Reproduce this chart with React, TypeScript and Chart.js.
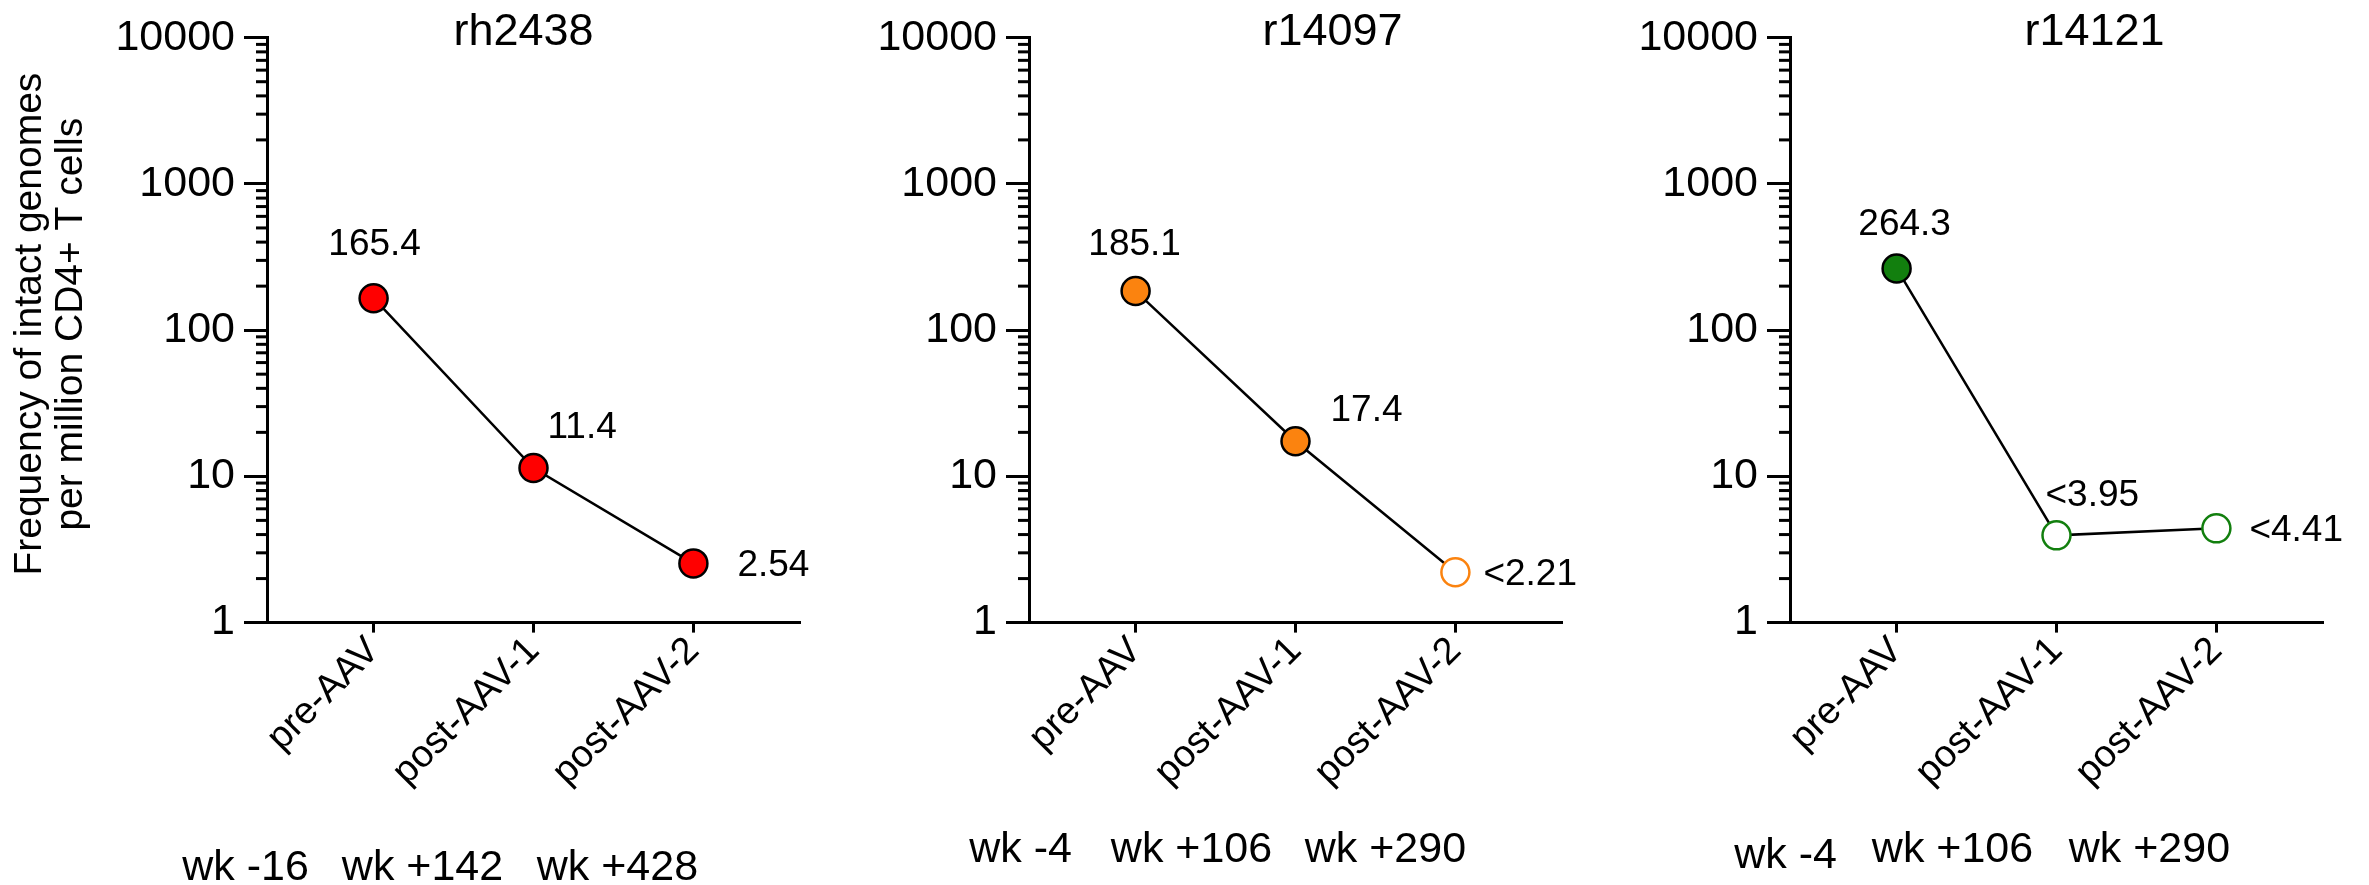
import React, { useEffect, useRef } from 'react';
import { Chart, registerables } from 'chart.js';

Chart.register(...registerables);

// ---------- data ----------
const categories = ['pre-AAV', 'post-AAV-1', 'post-AAV-2'];
const panelTitles = ['rh2438', 'r14097', 'r14121'];

const rh2438Values = [165.4, 11.4, 2.54];
const r14097Values = [185.1, 17.4, 2.21];
const r14121Values = [264.3, 3.95, 4.41];

const rh2438BelowLimit = [false, false, false];
const r14097BelowLimit = [false, false, true];
const r14121BelowLimit = [false, true, true];

const rh2438Weeks = ['wk -16', 'wk +142', 'wk +428'];
const r14097Weeks = ['wk -4', 'wk +106', 'wk +290'];
const r14121Weeks = ['wk -4', 'wk +106', 'wk +290'];

const yTickValues = [1, 10, 100, 1000, 10000];
const yTitleLines = ['Frequency of intact genomes', 'per million CD4+ T cells'];

// ---------- styles / layout ----------
const FONT = '"Liberation Sans", Arial, Helvetica, sans-serif';
const CANVAS_W = 846;
const CANVAS_H = 885;
const AXIS_LEFT = 267;
const PLOT_TOP = 37.7;
const PLOT_BOTTOM = 622.6;
const AXIS_W = 3;

type LabelPos = { dx: number; dy: number; align: CanvasTextAlign };

const panels = [
  {
    title: panelTitles[0],
    values: rh2438Values,
    below: rh2438BelowLimit,
    weeks: rh2438Weeks,
    color: '#ff0000',
    left: 0,
    showYTitle: true,
    titleDx: -10,
    labelPos: [
      { dx: 1, dy: -43, align: 'center' },
      { dx: 14, dy: -30, align: 'left' },
      { dx: 44, dy: 13, align: 'left' },
    ] as LabelPos[],
    weekDx: [-128, -111, -76],
    weekY: [880, 880, 880],
  },
  {
    title: panelTitles[1],
    values: r14097Values,
    below: r14097BelowLimit,
    weeks: r14097Weeks,
    color: '#fb830f',
    left: 762,
    showYTitle: false,
    titleDx: 37,
    labelPos: [
      { dx: -1, dy: -36, align: 'center' },
      { dx: 35, dy: -20, align: 'left' },
      { dx: 28, dy: 13, align: 'left' },
    ] as LabelPos[],
    weekDx: [-115, -104, -70],
    weekY: [862, 862, 862],
  },
  {
    title: panelTitles[2],
    values: r14121Values,
    below: r14121BelowLimit,
    weeks: r14121Weeks,
    color: '#127f0e',
    left: 1523,
    showYTitle: false,
    titleDx: 38,
    labelPos: [
      { dx: 8, dy: -33, align: 'center' },
      { dx: -11, dy: -29, align: 'left' },
      { dx: 33, dy: 13, align: 'left' },
    ] as LabelPos[],
    weekDx: [-111, -104, -67],
    weekY: [868, 862, 862],
  },
];

type Panel = (typeof panels)[number];

function fmt(v: number, below: boolean) {
  return (below ? '<' : '') + String(v);
}

function PanelChart({ p }: { p: Panel }) {
  const ref = useRef<HTMLCanvasElement | null>(null);

  useEffect(() => {
    if (!ref.current) return;

    const overlay = {
      id: 'overlay',
      afterDraw(chart: any) {
        const ctx = chart.ctx as CanvasRenderingContext2D;
        const area = chart.chartArea;
        const xs = chart.scales.x;
        const ys = chart.scales.y;
        ctx.save();

        // minor log ticks
        ctx.strokeStyle = '#000';
        ctx.lineWidth = AXIS_W;
        for (let d = 0; d < 4; d++) {
          for (let k = 2; k <= 9; k++) {
            const y = ys.getPixelForValue(k * Math.pow(10, d));
            ctx.beginPath();
            ctx.moveTo(area.left - 11, y);
            ctx.lineTo(area.left, y);
            ctx.stroke();
          }
        }

        ctx.fillStyle = '#000';

        // title
        ctx.font = `45px ${FONT}`;
        ctx.textAlign = 'center';
        ctx.textBaseline = 'alphabetic';
        ctx.fillText(p.title, (area.left + area.right) / 2 + p.titleDx, 45);

        // value labels
        const meta = chart.getDatasetMeta(0);
        ctx.font = `37px ${FONT}`;
        meta.data.forEach((pt: any, i: number) => {
          const lp = p.labelPos[i];
          ctx.textAlign = lp.align;
          ctx.textBaseline = 'alphabetic';
          ctx.fillText(fmt(p.values[i], p.below[i]), pt.x + lp.dx, pt.y + lp.dy);
        });

        // week labels
        ctx.font = `43px ${FONT}`;
        ctx.textAlign = 'center';
        p.weeks.forEach((w, i) => {
          const x = xs.getPixelForValue(i) + p.weekDx[i];
          ctx.fillText(w, x, p.weekY[i]);
        });

        // y-axis title
        if (p.showYTitle) {
          ctx.font = `39px ${FONT}`;
          ctx.textAlign = 'center';
          ctx.textBaseline = 'middle';
          const cy = (area.top + area.bottom) / 2 - 6;
          ctx.translate(30, cy);
          ctx.rotate(-Math.PI / 2);
          ctx.fillText(yTitleLines[0], 0, 0);
          ctx.fillText(yTitleLines[1], 0, 41);
        }
        ctx.restore();
      },
    };

    const chart = new Chart(ref.current, {
      type: 'line',
      data: {
        datasets: [
          {
            data: p.values.map((v, i) => ({ x: i, y: v })),
            borderColor: '#000',
            borderWidth: 2.5,
            pointRadius: 14,
            pointHoverRadius: 14,
            pointBorderWidth: 2.5,
            pointBackgroundColor: p.below.map((b) => (b ? '#ffffff' : p.color)),
            pointBorderColor: p.below.map((b) => (b ? p.color : '#000')),
            tension: 0,
            fill: false,
            clip: false as any,
          },
        ],
      },
      options: {
        responsive: false,
        animation: false,
        maintainAspectRatio: false,
        devicePixelRatio: 1,
        layout: { padding: { top: PLOT_TOP, right: CANVAS_W - AXIS_LEFT - 533, bottom: 0, left: 0 } },
        plugins: {
          legend: { display: false },
          tooltip: { enabled: false },
          title: { display: false },
        },
        scales: {
          x: {
            type: 'linear',
            min: -2 / 3,
            max: 8 / 3,
            afterBuildTicks: (s: any) => {
              s.ticks = categories.map((_, i) => ({ value: i }));
            },
            afterFit: (s: any) => {
              s.height = CANVAS_H - PLOT_BOTTOM;
            },
            ticks: {
              callback: (v: any) => categories[Number(v)] ?? '',
              minRotation: 45,
              maxRotation: 45,
              autoSkip: false,
              padding: -4,
              color: '#000',
              font: { family: FONT, size: 38 },
            },
            grid: {
              drawOnChartArea: false,
              drawTicks: true,
              tickLength: 10,
              tickWidth: AXIS_W,
              tickColor: '#000',
            },
            border: { display: true, color: '#000', width: AXIS_W },
          },
          y: {
            type: 'logarithmic',
            min: 1,
            max: 10000,
            afterBuildTicks: (s: any) => {
              s.ticks = yTickValues.map((v) => ({ value: v }));
            },
            afterFit: (s: any) => {
              s.width = AXIS_LEFT;
            },
            ticks: {
              callback: (v: any) => String(v),
              autoSkip: false,
              padding: 9,
              color: '#000',
              font: { family: FONT, size: 43 },
            },
            grid: {
              drawOnChartArea: false,
              drawTicks: true,
              tickLength: 23,
              tickWidth: AXIS_W,
              tickColor: '#000',
            },
            border: { display: true, color: '#000', width: AXIS_W },
          },
        },
      } as any,
      plugins: [overlay],
    });

    return () => chart.destroy();
  }, [p]);

  return (
    <canvas
      ref={ref}
      width={CANVAS_W}
      height={CANVAS_H}
      style={{ position: 'absolute', left: p.left, top: 0, width: CANVAS_W, height: CANVAS_H }}
    />
  );
}

export default function App() {
  useEffect(() => {
    document.body.style.margin = '0';
    document.body.style.background = '#ffffff';
  }, []);
  return (
    <div style={{ position: 'relative', width: 2369, height: 885, background: '#fff', overflow: 'hidden' }}>
      {panels.map((p) => (
        <PanelChart key={p.title} p={p} />
      ))}
    </div>
  );
}
